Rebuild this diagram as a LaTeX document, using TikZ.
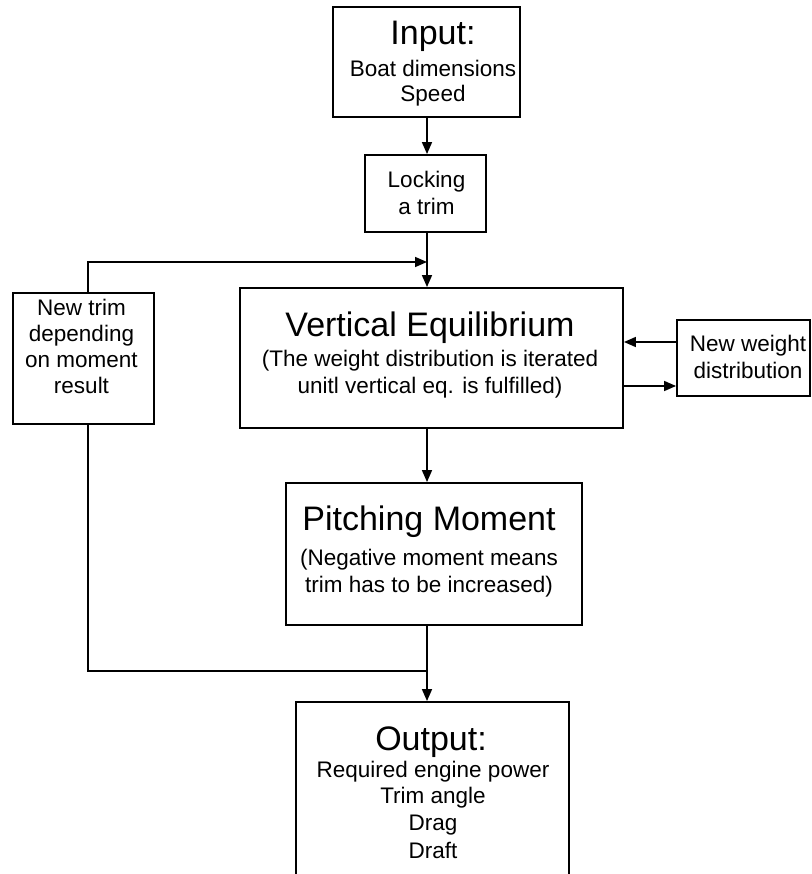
\documentclass[tikz,border=0pt]{standalone}
\usepackage{fontspec}
\setmainfont{Liberation Sans}
\usetikzlibrary{arrows.meta}
\begin{document}
\begin{tikzpicture}[x=1pt,y=-1pt,
  box/.style={draw=black, line width=1.9pt, inner sep=0pt, rectangle, fill=white},
  big/.style={anchor=base, inner sep=0pt, font=\fontsize{34}{38}\selectfont},
  sml/.style={anchor=base, inner sep=0pt, font=\fontsize{22.5}{26}\selectfont},
  ln/.style={draw=black, line width=1.6pt},
  arr/.style={ln, -{Triangle[length=12pt,width=10pt]}}]
\useasboundingbox (0,0) rectangle (811,874);
\clip (0,0) rectangle (811,874);
\fill[white] (0,0) rectangle (811,874);
% boxes
\node[box, minimum width=187pt, minimum height=110pt] (in) at (426.5,62) {};
\node[box, minimum width=121pt, minimum height=77pt] (lock) at (425.5,193.5) {};
\node[box, minimum width=383pt, minimum height=140pt] (ve) at (431.5,358) {};
\node[box, minimum width=133pt, minimum height=76pt] (nw) at (743.5,358) {};
\node[box, minimum width=141pt, minimum height=131pt] (nt) at (83.5,358.5) {};
\node[box, minimum width=296pt, minimum height=142pt] (pm) at (434,554) {};
\node[box, minimum width=273pt, minimum height=198pt] (out) at (432.5,801) {};
% texts
\node[big] (t1) at (433,45) {Input:};
\node[sml] (t2) at (433,77) {Boat dimensions};
\node[sml] (t3) at (433,102) {Speed};
\node[sml] (t4) at (426.5,188) {Locking};
\node[sml] (t5) at (426.5,215) {a trim};
\node[big] (t6) at (430,336) {Vertical Equilibrium};
\node[sml] (t7) at (430,366) {(The weight distribution is iterated};
\node[sml] (t8) at (430,393) {unitl vertical eq. is fulfilled)};
\node[sml] (t9) at (748,351) {New weight};
\node[sml] (t10) at (748,378) {distribution};
\node[sml] (t11) at (81.5,315) {New trim};
\node[sml] (t12) at (81.5,341) {depending};
\node[sml] (t13) at (81.5,367) {on moment};
\node[sml] (t14) at (81.5,393) {result};
\node[big] (t15) at (429,530) {Pitching Moment};
\node[sml] (t16) at (429,565) {(Negative moment means};
\node[sml] (t17) at (429,592) {trim has to be increased)};
\node[big] (t18) at (431,750) {Output:};
\node[sml] (t19) at (433,777) {Required engine power};
\node[sml] (t20) at (433,803) {Trim angle};
\node[sml] (t21) at (433,830) {Drag};
\node[sml] (t22) at (433,858) {Draft};
% helper coordinates
\coordinate (cx) at (427,0);
\coordinate (lx) at (88,0);
\coordinate (j1) at (427,262);
\coordinate (j2) at (427,671);
\coordinate (w1) at (0,342);
\coordinate (w2) at (0,386);
% connectors
\draw[arr] (in.south -| cx) -- (lock.north -| cx);
\draw[arr] (lock.south -| cx) -- (ve.north -| cx);
\draw[arr] (nt.north -| lx) |- (j1);
\draw[arr] (ve.south -| cx) -- (pm.north -| cx);
\draw[ln] (nt.south -| lx) |- (j2);
\draw[arr] (pm.south -| cx) -- (out.north -| cx);
\draw[arr] (nw.west |- w1) -- (ve.east |- w1);
\draw[arr] (ve.east |- w2) -- (nw.west |- w2);
\end{tikzpicture}
\end{document}
